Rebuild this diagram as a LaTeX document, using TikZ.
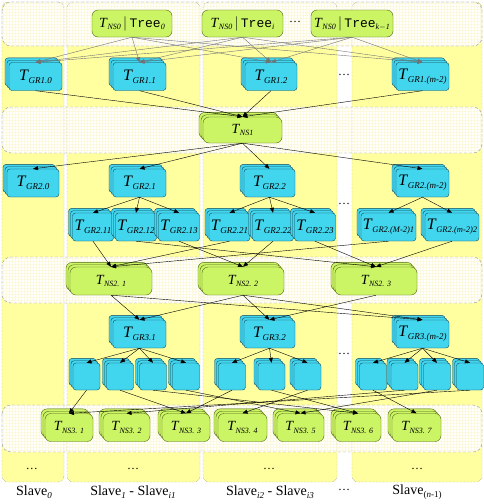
\documentclass[tikz,border=0pt]{standalone}
\usepackage{fontspec}
\setmainfont{Liberation Serif}
\setmonofont{Liberation Mono}
\usepackage{tikz}
\usetikzlibrary{arrows.meta,shadows,patterns}
\definecolor{colfill}{RGB}{255,255,160}
\definecolor{grfill}{RGB}{66,214,238}
\definecolor{grdraw}{RGB}{20,70,90}
\definecolor{nsfill}{RGB}{204,245,102}
\definecolor{nsdraw}{RGB}{80,100,20}
\definecolor{gridline}{RGB}{252,249,222}
\newcommand{\tlab}[2][9]{\textit{T}\kern-0.3pt\raisebox{-0.45ex}{\fontsize{#1}{#1}\selectfont\itshape #2}}
\tikzset{
  slavecol/.style={rounded corners=6pt,fill=colfill},
  colline/.style={rounded corners=6pt,draw=gray,densely dotted},
  layerband/.style={rounded corners=9pt,draw=gray!80,densely dashed,
              preaction={fill=white},pattern=grid,pattern color=gridline},
  grbox/.style={rectangle,rounded corners=3pt,draw=grdraw,fill=grfill,inner sep=0pt,
              minimum width=53pt,minimum height=28pt,font=\fontsize{16}{16}\selectfont,
              double copy shadow={shadow xshift=-2pt,shadow yshift=2.3pt}},
  grsub/.style={grbox,minimum width=41pt},
  grblank/.style={grbox,minimum width=27pt,minimum height=27pt},
  nsbox/.style={rectangle,rounded corners=6pt,draw=nsdraw,fill=nsfill,inner sep=0pt,
              minimum width=82pt,minimum height=28pt,font=\fontsize{14}{14}\selectfont,
              double copy shadow={shadow xshift=-2pt,shadow yshift=2.3pt}},
  nssmall/.style={nsbox,minimum width=48pt},
  treebox/.style={rectangle,rounded corners=6pt,draw=nsdraw,fill=nsfill,inner sep=0pt,
              minimum width=81pt,minimum height=27pt,font=\fontsize{14}{14}\selectfont},
  dots/.style={font=\fontsize{12}{12}\selectfont},
  slavelab/.style={font=\fontsize{14}{14}\selectfont},
  link/.style={-{Triangle[length=5pt,width=4pt]},draw=black,line width=0.4pt},
  toplink/.style={link,draw=black!55},
}

\begin{document}
\begin{tikzpicture}[x=1pt,y=-1pt]
  \useasboundingbox (0,0) rectangle (484,504);
  % slave columns
  \fill[slavecol] (2,2) rectangle (64,482);
  \fill[slavecol] (67,2) rectangle (200,482);
  \fill[slavecol] (203,2) rectangle (337,482);
  \fill[slavecol] (352,2) rectangle (482,482);
  % layer bands
  \draw[layerband] (2,2) rectangle (482,46);
  \draw[layerband] (2,107) rectangle (482,153);
  \draw[layerband] (2,257) rectangle (482,303);
  \draw[layerband] (2,405) rectangle (482,452);
  \draw[colline] (2,2) rectangle (64,482);
  \draw[colline] (67,2) rectangle (200,482);
  \draw[colline] (203,2) rectangle (337,482);
  \draw[colline] (352,2) rectangle (482,482);

  \node[treebox,minimum width=80pt] (ns0a) at (132,23.5) {\tlab[8]{NS0}\,$|$\,{\fontsize{13}{13}\selectfont\texttt{Tree}}\raisebox{-0.45ex}{\fontsize{8}{8}\selectfont\itshape 0}};
  \node[treebox] (ns0b) at (242.5,23.5) {\tlab[8]{NS0}\,$|$\,{\fontsize{13}{13}\selectfont\texttt{Tree}}\raisebox{-0.45ex}{\fontsize{8}{8}\selectfont\itshape i}};
  \node[dots] (dtop) at (295,22) {\dots};
  \node[treebox,minimum width=82pt] (ns0c) at (352,23.5) {\tlab[8]{NS0}\,$|$\,{\fontsize{13}{13}\selectfont\texttt{Tree}}\raisebox{-0.45ex}{\fontsize{8}{8}\selectfont\itshape k$-$1}};

  \node[grbox] (gr10) at (35.5,76.5) {\tlab{GR1.0}};
  \node[grbox] (gr11) at (139.5,76.5) {\tlab{GR1.1}};
  \node[grbox,minimum width=52pt] (gr12) at (271,76.5) {\tlab{GR1.2}};
  \node[dots] (dgr1) at (344,75) {\dots};
  \node[grbox] (gr1m) at (422.5,76.5) {\tlab{GR1.(m-2)}};

  \node[nsbox,minimum width=79pt,minimum height=26pt] (ns1) at (242.5,130) {\tlab[8]{NS1}};

  \node[grbox,minimum width=52pt] (gr20) at (33,183) {\tlab{GR2.0}};
  \node[grbox] (gr21) at (139.5,183) {\tlab{GR2.1}};
  \node[grbox,minimum width=51pt] (gr22) at (269.5,183) {\tlab{GR2.2}};
  \node[dots] (dgr2) at (344,204) {\dots};
  \node[grbox] (gr2m) at (422.5,183) {\tlab{GR2.(m-2)}};

  \node[grsub] (gr211) at (93,227) {\tlab{GR2.11}};
  \node[grsub] (gr212) at (136,227) {\tlab{GR2.12}};
  \node[grsub] (gr213) at (179,227) {\tlab{GR2.13}};
  \node[grsub] (gr221) at (229.5,227) {\tlab{GR2.21}};
  \node[grsub] (gr222) at (273,227) {\tlab{GR2.22}};
  \node[grsub] (gr223) at (315,227) {\tlab{GR2.23}};
  \node[grbox,minimum width=55pt] (gr2m1) at (388.5,227) {\tlab[8.5]{GR2.(M-2)1}};
  \node[grbox,minimum width=54pt] (gr2m2) at (452,227) {\tlab[8.5]{GR2.(m-2)2}};

  \node[nsbox] (ns21) at (111,281) {\tlab[8]{NS2. 1}};
  \node[nsbox] (ns22) at (243,281) {\tlab[8]{NS2. 2}};
  \node[nsbox] (ns23) at (376,281) {\tlab[8]{NS2. 3}};

  \node[grbox] (gr31) at (139.5,334) {\tlab{GR3.1}};
  \node[grbox,minimum width=51pt] (gr32) at (269.5,334) {\tlab{GR3.2}};
  \node[dots] (dgr3) at (344,354) {\dots};
  \node[grbox] (gr3m) at (422.5,334) {\tlab{GR3.(m-2)}};

  \node[grblank] (a1) at (86.5,376.5) {};
  \node[grblank] (a2) at (120,376.5) {};
  \node[grblank] (a3) at (153,376.5) {};
  \node[grblank] (a4) at (186,376.5) {};
  \node[grblank] (b1) at (232,376.5) {};
  \node[grblank] (b2) at (271.5,376.5) {};
  \node[grblank] (b3) at (307.5,376.5) {};
  \node[grblank] (c1) at (373,376.5) {};
  \node[grblank] (c2) at (404.5,376.5) {};
  \node[grblank] (c3) at (437,376.5) {};
  \node[grblank] (c4) at (470,376.5) {};

  \node[nssmall] (ns31) at (69,427.5) {\tlab[8]{NS3. 1}};
  \node[nssmall,minimum width=47pt] (ns32) at (126.5,427.5) {\tlab[8]{NS3. 2}};
  \node[nssmall] (ns33) at (186,427.5) {\tlab[8]{NS3. 3}};
  \node[nssmall,minimum width=49pt] (ns34) at (242.5,427.5) {\tlab[8]{NS3. 4}};
  \node[nssmall,minimum width=47pt] (ns35) at (300.5,427.5) {\tlab[8]{NS3. 5}};
  \node[nssmall,minimum width=46pt] (ns36) at (358,427.5) {\tlab[8]{NS3. 6}};
  \node[nssmall,minimum width=49pt] (ns37) at (416.5,427.5) {\tlab[8]{NS3. 7}};

  \node[dots] (dcol0) at (32,469) {\dots};
  \node[dots] (dcol1) at (133,469) {\dots};
  \node[dots] (dcol2) at (269,469) {\dots};
  \node[dots] (dcol3) at (417,469) {\dots};

  \node[slavelab] (lab0) at (34,492) {Slave\raisebox{-0.45ex}{\fontsize{9}{9}\selectfont\itshape 0}};
  \node[slavelab] (lab1) at (133,492) {Slave\raisebox{-0.45ex}{\fontsize{9}{9}\selectfont\itshape 1} - Slave\raisebox{-0.45ex}{\fontsize{9}{9}\selectfont\itshape i1}};
  \node[slavelab] (lab2) at (270,492) {Slave\raisebox{-0.45ex}{\fontsize{9}{9}\selectfont\itshape i2} - Slave\raisebox{-0.45ex}{\fontsize{9}{9}\selectfont\itshape i3}};
  \node[dots] (labd) at (344,490) {\dots};
  \node[slavelab] (lab3) at (417,492) {Slave\raisebox{-0.45ex}{\fontsize{9}{9}\selectfont(\textit{n}-1)}};

  % connectors
  \foreach \src in {ns0a,ns0b,ns0c}
    \foreach \dst in {gr10,gr11,gr12,gr1m}
      \draw[toplink] (\src.south) -- (\dst.north);
  \foreach \src in {gr10,gr11,gr12,gr1m}
    \draw[link] (\src.south) -- (ns1.north);
  \foreach \dst in {gr20,gr21,gr22,gr2m}
    \draw[link] (ns1.south) -- (\dst.north);
  \foreach \dst in {gr211,gr212,gr213}
    \draw[link] (gr21.south) -- (\dst.north);
  \foreach \dst in {gr221,gr222,gr223}
    \draw[link] (gr22.south) -- (\dst.north);
  \foreach \dst in {gr2m1,gr2m2}
    \draw[link] (gr2m.south) -- (\dst.north);
  \foreach \src/\dst in {gr211/ns21,gr212/ns23,gr213/ns22,gr221/ns21,gr222/ns22,gr223/ns23,gr2m1/ns21,gr2m2/ns23}
    \draw[link] (\src.south) -- (\dst.north);
  \foreach \src/\dst in {ns21/gr31,ns22/gr31,ns22/gr32,ns23/gr32,ns21/gr3m,ns22/gr3m}
    \draw[link] (\src.south) -- (\dst.north);
  \foreach \dst in {a1,a2,a3,a4}
    \draw[link] (gr31.south) -- (\dst.north);
  \foreach \dst in {b1,b2,b3}
    \draw[link] (gr32.south) -- (\dst.north);
  \foreach \dst in {c1,c2,c3,c4}
    \draw[link] (gr3m.south) -- (\dst.north);
  \foreach \src/\dst in {a1/ns31,a2/ns33,a3/ns36,a4/ns35,b1/ns33,b2/ns36,b3/ns34,c1/ns37,c2/ns32,c3/ns35,c4/ns31}
    \draw[link] (\src.south) -- (\dst.north);
\end{tikzpicture}
\end{document}
